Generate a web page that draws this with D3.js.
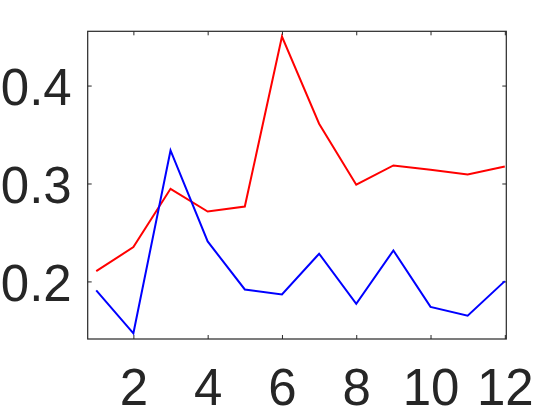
<!DOCTYPE html>
<html>
<head>
<meta charset="utf-8">
<script src="https://cdn.jsdelivr.net/npm/d3@7.9.0/dist/d3.min.js"></script>
<style>
  body { margin: 0; background: #fff; }
  svg { display: block; }
</style>
</head>
<body>
<svg id="chart" width="560" height="420"></svg>
<script>
// Data
const steps = [1, 2, 3, 4, 5, 6, 7, 8, 9, 10, 11, 12];
const redValues = [0.2105, 0.235, 0.2946, 0.2714, 0.2765, 0.450, 0.361, 0.2987, 0.3184, 0.314, 0.3092, 0.3173];
const blueValues = [0.1908, 0.147, 0.3337, 0.2408, 0.1918, 0.1867, 0.2283, 0.1772, 0.2316, 0.174, 0.165, 0.2003];
const xTicks = [2, 4, 6, 8, 10, 12];
const yTicks = [0.2, 0.3, 0.4];

const svg = d3.select('#chart');
const box = { left: 87.7, top: 31.3, right: 506.3, bottom: 339 };
const ink = '#262626';

// Scales
const x = d3.scaleLinear().domain([0.77, 12.04]).range([box.left, box.right]);
const y = d3.scaleLinear().domain([0.1412, 0.4554]).range([box.bottom, box.top]);

// Axes: ticks point inward, mirrored on top and right like the original
const tickLen = 4;
const font = 'Liberation Sans, Arial, Helvetica, sans-serif';

const bottomAxis = svg.append('g')
  .attr('transform', `translate(0,${box.bottom})`)
  .call(d3.axisBottom(x).tickValues(xTicks).tickSize(-tickLen).tickPadding(30).tickFormat(d3.format('d')));
const leftAxis = svg.append('g')
  .attr('transform', `translate(${box.left},0)`)
  .call(d3.axisLeft(y).tickValues(yTicks).tickSize(-tickLen).tickPadding(16).tickFormat(d3.format('.1f')));
svg.append('g')
  .attr('transform', `translate(0,${box.top})`)
  .call(d3.axisTop(x).tickValues(xTicks).tickSize(-tickLen).tickFormat(''));
svg.append('g')
  .attr('transform', `translate(${box.right},0)`)
  .call(d3.axisRight(y).tickValues(yTicks).tickSize(-tickLen).tickFormat(''));

svg.selectAll('.domain').remove();
svg.selectAll('.tick line').attr('stroke', ink).attr('stroke-width', 1);
svg.selectAll('.tick text')
  .attr('fill', ink)
  .style('font-family', font)
  .style('font-size', '51px');
bottomAxis.selectAll('.tick text').attr('dy', '0.71em');
leftAxis.selectAll('.tick text').attr('dy', '0.38em');

// Box outline
svg.append('rect')
  .attr('x', box.left)
  .attr('y', box.top)
  .attr('width', box.right - box.left)
  .attr('height', box.bottom - box.top)
  .attr('fill', 'none')
  .attr('stroke', ink)
  .attr('stroke-width', 1.2);

// Lines
const line = d3.line()
  .x((d, i) => x(steps[i]))
  .y((d) => y(d));

svg.append('path')
  .datum(redValues)
  .attr('d', line)
  .attr('fill', 'none')
  .attr('stroke', '#ff0000')
  .attr('stroke-width', 2);

svg.append('path')
  .datum(blueValues)
  .attr('d', line)
  .attr('fill', 'none')
  .attr('stroke', '#0000ff')
  .attr('stroke-width', 2);
</script>
</body>
</html>
